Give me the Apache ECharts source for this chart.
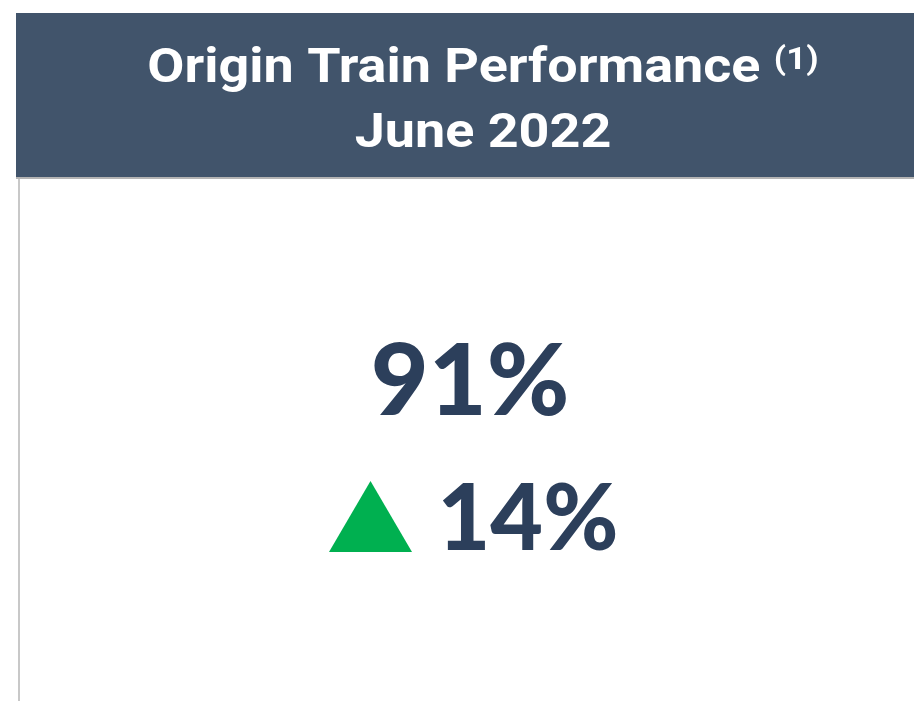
<!DOCTYPE html>
<html>
  <head>
    <meta charset="utf-8" />
    <title>Origin Train Performance</title>
    <style type="text/css">
      html, body { margin: 0; padding: 0; background: #ffffff; }
      #main { width: 914px; height: 701px; }
    </style>
    <script type="text/javascript" src="https://cdn.jsdelivr.net/npm/echarts@6.0.0/dist/echarts.min.js"></script>
  </head>
  <body>
    <div id="main"></div>
    <script type="text/javascript">
    // KPI data
    var titleLines = ['Origin Train Performance', 'June 2022'];
    var footnote = '(1)';
    var kpiValue = [91];
    var kpiChange = [14];

    var dom = document.getElementById('main');
    var myChart = echarts.init(dom, null, { renderer: 'canvas' });

    var navy = '#2c3f5b';
    var up = kpiChange[0] >= 0;

    var option = {
      backgroundColor: '#ffffff',
      animation: false,
      graphic: [
        // header band
        {
          type: 'rect',
          shape: { x: 16, y: 13, width: 920, height: 164 },
          style: { fill: '#41546b' }
        },
        {
          type: 'rect',
          shape: { x: 16, y: 177, width: 920, height: 2 },
          style: { fill: '#b4b4b4' }
        },
        // left border of the card
        {
          type: 'rect',
          shape: { x: 18, y: 179, width: 2, height: 530 },
          style: { fill: '#c8c8c8' }
        },
        {
          type: 'text',
          x: 483,
          y: 45,
          scaleX: 1.1,
          style: {
            text: titleLines[0] + ' {sup|' + footnote + '}',
            fill: '#ffffff',
            font: 'bold 49px Roboto',
            align: 'center',
            verticalAlign: 'top',
            rich: {
              sup: {
                fill: '#ffffff',
                font: 'bold 32px Roboto',
                verticalAlign: 'top',
                padding: [0, 0, 18, 0]
              }
            }
          }
        },
        {
          type: 'text',
          x: 483,
          y: 110,
          scaleX: 1.1,
          style: {
            text: titleLines[1],
            fill: '#ffffff',
            font: 'bold 49px Roboto',
            align: 'center',
            verticalAlign: 'top'
          }
        },
        // main value
        {
          type: 'text',
          x: 470,
          y: 333,
          style: {
            text: kpiValue[0] + '%',
            fill: navy,
            font: '900 100px Lato',
            align: 'center',
            verticalAlign: 'top'
          }
        },
        // change indicator
        {
          type: 'polygon',
          shape: {
            points: [[329, 552], [370.5, 481], [412, 552]]
          },
          style: { fill: up ? '#00b050' : '#e03030' }
        },
        {
          type: 'text',
          x: 528,
          y: 475,
          style: {
            text: Math.abs(kpiChange[0]) + '%',
            fill: navy,
            font: '900 91px Lato',
            align: 'center',
            verticalAlign: 'top'
          }
        }
      ]
    };

    if (option && typeof option === 'object') {
      myChart.setOption(option);
    }
    </script>
  </body>
</html>
